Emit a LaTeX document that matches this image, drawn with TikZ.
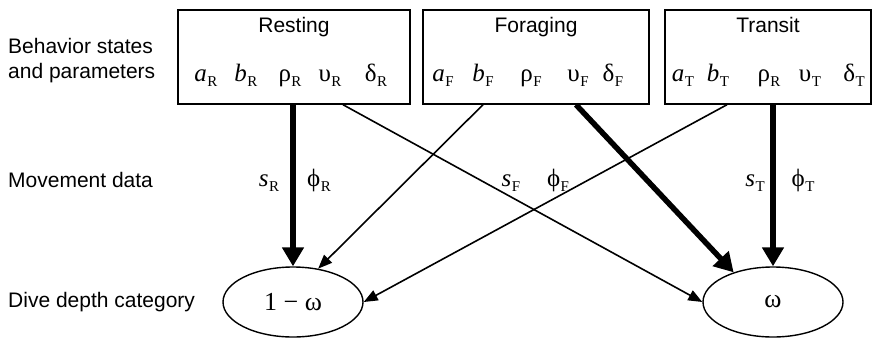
\documentclass[tikz,border=0pt]{standalone}
\usepackage{fontspec}
\setmainfont{Liberation Sans}
\newfontfamily\serif{Liberation Serif}
\usetikzlibrary{arrows.meta,shapes.geometric,calc}
\newcommand\prm[2]{{\serif\fontsize{25}{25}\selectfont {#1}\kern0.5pt\raisebox{-5pt}{\upshape\fontsize{15}{15}\selectfont #2}}}
\tikzset{
  lbl/.style={anchor=base west,inner sep=0pt,font=\fontsize{21}{25}\selectfont,align=left},
  title/.style={anchor=base,inner sep=0pt,font=\fontsize{21}{25}\selectfont},
  par/.style={anchor=base,inner sep=0pt},
  statebox/.style={draw,line width=1.4pt,inner sep=0pt},
  cat/.style={draw,ellipse,line width=1.4pt,minimum width=140pt,minimum height=70pt,inner sep=0pt,font=\serif\fontsize{26}{26}\selectfont},
  thin/.style={line width=1.6pt,-{Triangle[length=14pt,width=11pt]}},
  thick/.style={line width=5.5pt,-{Triangle[length=19pt,width=21pt]}},
}
\begin{document}
\begin{tikzpicture}[x=1pt,y=-1pt]
\useasboundingbox (0,0) rectangle (873,338);
% row labels
\node[lbl] (l1) at (8,53) {Behavior states};
\node[lbl] (l2) at (8,78) {and parameters};
\node[lbl] (l3) at (8,187) {Movement data};
\node[lbl] (l4) at (8,307) {Dive depth category};
% boxes
\node[statebox,minimum width=232pt,minimum height=94pt] (rest) at (294,57) {};
\node[statebox,minimum width=226pt,minimum height=94pt] (forg) at (536,57) {};
\node[statebox,minimum width=206pt,minimum height=94pt] (tran) at (768,57) {};
% titles
\node[title] (tr) at (294,32) {Resting};
\node[title] (tf) at (536,32) {Foraging};
\node[title] (tt) at (768,32) {Transit};
% parameters
\node[par] (aR) at (206,81) {\prm{\itshape a}{R}};
\node[par] (bR) at (246,81) {\prm{\itshape b}{R}};
\node[par] (rR) at (290,81) {\prm{ρ}{R}};
\node[par] (uR) at (330,81) {\prm{υ}{R}};
\node[par] (dR) at (376,81) {\prm{δ}{R}};
\node[par] (aF) at (443,81) {\prm{\itshape a}{F}};
\node[par] (bF) at (483,81) {\prm{\itshape b}{F}};
\node[par] (rF) at (531,81) {\prm{ρ}{F}};
\node[par] (uF) at (578,81) {\prm{υ}{F}};
\node[par] (dF) at (613,81) {\prm{δ}{F}};
\node[par] (aT) at (683,81) {\prm{\itshape a}{T}};
\node[par] (bT) at (718,81) {\prm{\itshape b}{T}};
\node[par] (rT) at (769,81) {\prm{ρ}{R}};
\node[par] (uT) at (810,81) {\prm{υ}{T}};
\node[par] (dT) at (854,81) {\prm{δ}{T}};
% movement data
\node[par] (sR) at (269,186) {\prm{\itshape s}{R}};
\node[par] (pR) at (319,186) {\prm{ϕ}{R}};
\node[par] (sF) at (511,186) {\prm{\itshape s}{F}};
\node[par] (pF) at (558,186) {\prm{ϕ}{F}};
\node[par] (sT) at (755,186) {\prm{\itshape s}{T}};
\node[par] (pT) at (803,186) {\prm{ϕ}{T}};
% dive depth ellipses
\node[cat] (L) at (293,302) {1 − ω};
\node[cat] (R) at (773,302) {ω};
% connectors
\draw[thick] (L.north |- rest.south) -- (L.north);
\draw[thin] ([xshift=49pt]rest.south) -- (R.west);
\draw[thin] ([xshift=-53pt]forg.south) -- (L.53);
\draw[thick] ([xshift=40pt]forg.south) -- (R.143);
\draw[thin] ([xshift=-41pt]tran.south) -- (L.east);
\draw[thick] (R.north |- tran.south) -- (R.north);
\end{tikzpicture}
\end{document}
